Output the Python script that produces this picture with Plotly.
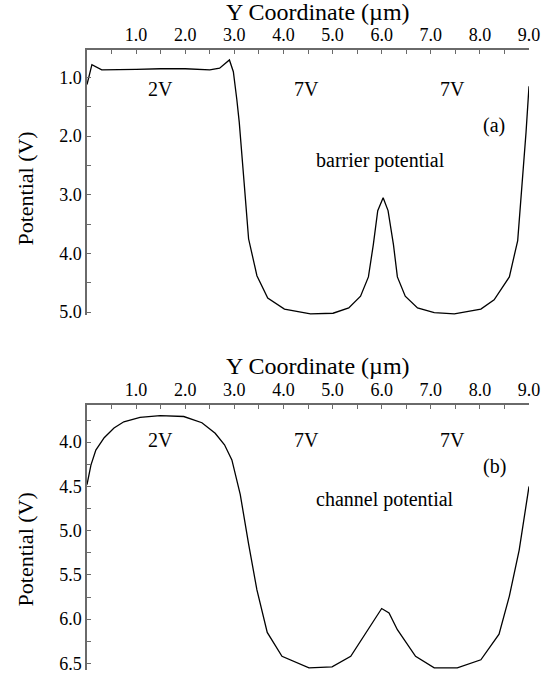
import plotly.graph_objects as go

# ---- data ----
barrier_x = [0.0, 0.1, 0.3, 0.6, 1.0, 1.5, 2.0, 2.5, 2.7, 2.9, 2.98, 3.05, 3.1, 3.2,
             3.29, 3.46, 3.68, 4.02, 4.55, 5.01, 5.33, 5.57, 5.73, 5.83, 5.92, 6.03,
             6.13, 6.24, 6.32, 6.48, 6.73, 7.07, 7.48, 8.02, 8.29, 8.6, 8.77, 8.94, 9.0]
barrier_y = [1.12, 0.78, 0.87, 0.87, 0.86, 0.85, 0.85, 0.87, 0.84, 0.70, 0.90, 1.37, 1.76, 2.8,
             3.75, 4.38, 4.76, 4.95, 5.03, 5.02, 4.93, 4.73, 4.4, 3.85, 3.27, 3.05,
             3.27, 3.85, 4.4, 4.73, 4.93, 5.01, 5.03, 4.95, 4.79, 4.4, 3.78, 1.93, 1.15]

channel_x = [0.0, 0.08, 0.18, 0.35, 0.55, 0.75, 1.08, 1.49, 1.97, 2.34, 2.61, 2.8, 2.95,
             3.12, 3.29, 3.46, 3.67, 3.97, 4.52, 4.99, 5.37, 5.74, 6.0, 6.15, 6.32, 6.69,
             7.07, 7.54, 8.02, 8.39, 8.6, 8.8, 9.0]
channel_y = [4.48, 4.26, 4.09, 3.95, 3.84, 3.77, 3.72, 3.70, 3.71, 3.78, 3.90, 4.03, 4.2,
             4.59, 5.15, 5.67, 6.15, 6.42, 6.55, 6.54, 6.42, 6.10, 5.88, 5.93, 6.12, 6.42,
             6.55, 6.55, 6.46, 6.17, 5.74, 5.22, 4.5]

x_tickvals = [1, 2, 3, 4, 5, 6, 7, 8, 9]
x_ticktext = ["1.0", "2.0", "3.0", "4.0", "5.0", "6.0", "7.0", "8.0", "9.0"]
ya_tickvals = [1, 2, 3, 4, 5]
ya_ticktext = ["1.0", "2.0", "3.0", "4.0", "5.0"]
yb_tickvals = [4.0, 4.5, 5.0, 5.5, 6.0, 6.5]
yb_ticktext = ["4.0", "4.5", "5.0", "5.5", "6.0", "6.5"]

FONT = "Liberation Serif"
AXC = "#6a6a6a"
TICK_SIZE = 18

fig = go.Figure()
fig.add_trace(go.Scatter(x=barrier_x, y=barrier_y, mode="lines",
                         line=dict(color="black", width=1.3), xaxis="x", yaxis="y",
                         showlegend=False))
fig.add_trace(go.Scatter(x=channel_x, y=channel_y, mode="lines",
                         line=dict(color="black", width=1.3), xaxis="x2", yaxis="y2",
                         showlegend=False))

def xax(anchor, minor_d):
    return dict(range=[0, 9], side="top", anchor=anchor, showgrid=False, zeroline=False,
                showline=True, linecolor=AXC, linewidth=1.5, mirror=False,
                ticks="inside", ticklen=4, tickwidth=1.2, tickcolor=AXC,
                tickvals=x_tickvals, ticktext=x_ticktext,
                minor=dict(dtick=minor_d, tick0=0, ticks="inside", ticklen=4,
                           tickcolor=AXC, tickwidth=1.2, showgrid=False),
                tickfont=dict(family=FONT, size=TICK_SIZE, color="black"))

def yax(anchor, rng, dom, tv, tt, minor_d, minor_t0):
    return dict(range=rng, domain=dom, anchor=anchor, showgrid=False, zeroline=False,
                showline=True, linecolor=AXC, linewidth=1.5,
                ticks="inside", ticklen=4, tickwidth=1.2, tickcolor=AXC,
                tickvals=tv, ticktext=tt,
                minor=dict(dtick=minor_d, tick0=minor_t0, ticks="inside", ticklen=4,
                           tickcolor=AXC, tickwidth=1.2, showgrid=False),
                tickfont=dict(family=FONT, size=TICK_SIZE, color="black"))

fig.update_layout(
    width=555, height=680,
    margin=dict(l=87, r=26, t=50, b=3),
    paper_bgcolor="white", plot_bgcolor="white",
    xaxis=xax("y", 0.5),
    yaxis=yax("x", [5.05, 0.53], [0.5726, 1.0], ya_tickvals, ya_ticktext, 0.5, 0),
    xaxis2=xax("y2", 0.5),
    yaxis2=yax("x2", [6.575, 3.58], [0.0, 0.4274], yb_tickvals, yb_ticktext, 0.25, 0),
)

def ann(text, x, y, xref, yref, size=20, angle=0):
    return dict(text=text, x=x, y=y, xref=xref, yref=yref, showarrow=False,
                textangle=angle, xanchor="center", yanchor="middle",
                font=dict(family=FONT, size=size, color="black"))

annotations = [
    ann("Y Coordinate (\u00b5m)", 0.5215, 1.061, "paper", "paper", size=24),
    ann("Y Coordinate (\u00b5m)", 0.5215, 0.4896, "paper", "paper", size=24),
    ann("Potential (V)", -0.14, 0.7767, "paper", "paper", size=22, angle=-90),
    ann("Potential (V)", -0.14, 0.1946, "paper", "paper", size=22, angle=-90),
    ann("2V", 1.49, 1.2, "x", "y"),
    ann("7V", 4.47, 1.2, "x", "y"),
    ann("7V", 7.45, 1.2, "x", "y"),
    ann("(a)", 8.29, 1.82, "x", "y"),
    ann("barrier potential", 5.98, 2.41, "x", "y"),
    ann("2V", 1.49, 3.98, "x2", "y2"),
    ann("7V", 4.47, 3.98, "x2", "y2"),
    ann("7V", 7.45, 3.98, "x2", "y2"),
    ann("(b)", 8.29, 4.28, "x2", "y2"),
    ann("channel potential", 6.06, 4.65, "x2", "y2"),
]
fig.update_layout(annotations=annotations)

fig.write_html("out.html")
